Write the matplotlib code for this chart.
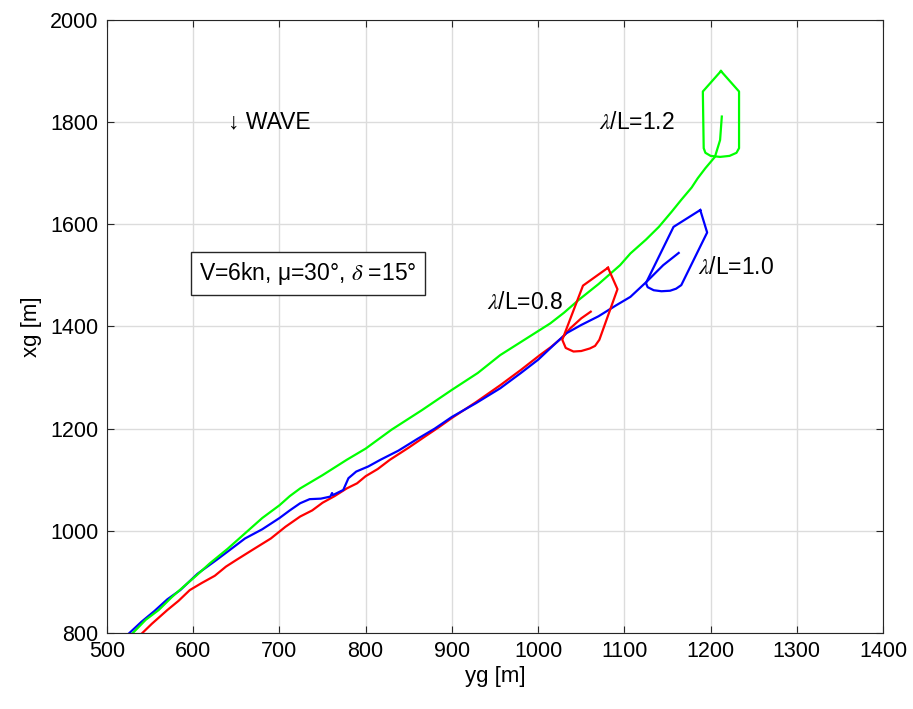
import matplotlib
matplotlib.use("Agg")
import matplotlib.pyplot as plt

plt.rcParams['font.family'] = ['Liberation Sans', 'DejaVu Sans']
plt.rcParams['mathtext.fontset'] = 'stix'

# trajectories (yg, xg)
red_y = [541, 552, 570, 583, 596, 610, 625, 638, 650, 668, 690, 707, 724, 738, 750, 764, 778, 790, 800, 814,
         828, 850, 870, 885, 900, 928, 956, 980, 1002, 1015, 1029, 1037, 1050, 1061]
red_x = [800, 818, 845, 863, 884, 898, 912, 930, 943, 962, 985, 1008, 1028, 1040, 1055, 1068, 1083, 1093,
         1107, 1121, 1139, 1163, 1186, 1203, 1221, 1252, 1285, 1315, 1344, 1360, 1380, 1396, 1416, 1429]

blue_y = [526, 540, 555, 570, 585, 605, 627, 642, 660, 680, 700, 712, 724, 735, 748, 759, 761, 762, 774, 780,
          789, 803, 817, 838, 860, 880, 900, 928, 956, 980, 1000, 1017, 1033, 1050, 1070, 1090, 1107, 1126,
          1145, 1163]
blue_x = [800, 822, 843, 866, 884, 916, 943, 962, 985, 1003, 1025, 1040, 1054, 1062, 1063, 1067, 1074, 1070,
          1080, 1103, 1116, 1126, 1139, 1157, 1180, 1200, 1223, 1250, 1279, 1309, 1335, 1362, 1387, 1403, 1420,
          1441, 1458, 1488, 1520, 1544]

green_y = [530, 545, 560, 575, 589, 604, 619, 640, 660, 680, 700, 712, 724, 750, 778, 800, 830, 865, 900,
           930, 956, 985, 1014, 1030, 1047, 1070, 1095, 1107, 1125, 1140, 1155, 1166, 1178, 1185, 1194, 1205,
           1211, 1213]
green_x = [800, 826, 845, 870, 891, 913, 936, 965, 995, 1025, 1050, 1068, 1083, 1109, 1139, 1161, 1198,
           1236, 1276, 1309, 1344, 1375, 1406, 1427, 1452, 1483, 1520, 1543, 1570, 1595, 1625, 1648, 1672,
           1690, 1710, 1732, 1765, 1811]

# ship outlines at the end of each run
red_ship_y = [1081, 1092, 1071, 1066, 1060, 1050, 1041, 1032, 1028, 1052, 1081]
red_ship_x = [1515, 1473, 1374, 1362, 1357, 1352, 1351, 1358, 1374, 1480, 1515]

blue_ship_y = [1188, 1196, 1166, 1160, 1153, 1143, 1134, 1127, 1125, 1157, 1188]
blue_ship_x = [1628, 1584, 1481, 1474, 1470, 1469, 1471, 1477, 1485, 1595, 1628]

green_ship_y = [1212, 1233, 1233, 1230, 1222, 1211, 1200, 1194, 1192, 1191, 1212]
green_ship_x = [1900, 1860, 1749, 1740, 1734, 1732, 1734, 1740, 1749, 1860, 1900]

fig = plt.figure(figsize=(9.13, 7.09), dpi=100)
ax = fig.add_axes([0.1172, 0.1072, 0.85, 0.8646])

ax.plot(red_y, red_x, color='#ff0000', lw=1.6)
ax.plot(blue_y, blue_x, color='#0000ff', lw=1.6)
ax.plot(green_y, green_x, color='#00ff00', lw=1.6)
ax.plot(red_ship_y, red_ship_x, color='#ff0000', lw=1.6)
ax.plot(blue_ship_y, blue_ship_x, color='#0000ff', lw=1.6)
ax.plot(green_ship_y, green_ship_x, color='#00ff00', lw=1.6)

ax.set_xlim(500, 1400)
ax.set_ylim(800, 2000)
ax.set_xticks(range(500, 1401, 100))
ax.set_yticks(range(800, 2001, 200))
ax.grid(True, color='#dcdcdc', lw=1)
ax.set_axisbelow(True)
ax.tick_params(direction='in', top=True, right=True, labelsize=15.5, length=5, color='#262626', pad=6)
for s in ax.spines.values():
    s.set_color('#262626')
ax.set_xlabel('yg [m]', fontsize=16, labelpad=3)
ax.set_ylabel('xg [m]', fontsize=16, labelpad=6)

ax.text(1070, 1800, r'$\lambda$/L=1.2', fontsize=16.5, va='center')
ax.text(1185, 1515, r'$\lambda$/L=1.0', fontsize=16.5, va='center')
ax.text(941, 1447, r'$\lambda$/L=0.8', fontsize=16.5, va='center')
ax.text(640, 1800, '\u2193 WAVE', fontsize=16.5, va='center')
ax.text(607, 1503, 'V=6kn, \u03bc=30\u00b0, $\\delta$ =15\u00b0', fontsize=16.5, va='center',
        bbox=dict(boxstyle='square,pad=0.35', fc='white', ec='#262626', lw=1))

fig.savefig('out.png', dpi=100)
